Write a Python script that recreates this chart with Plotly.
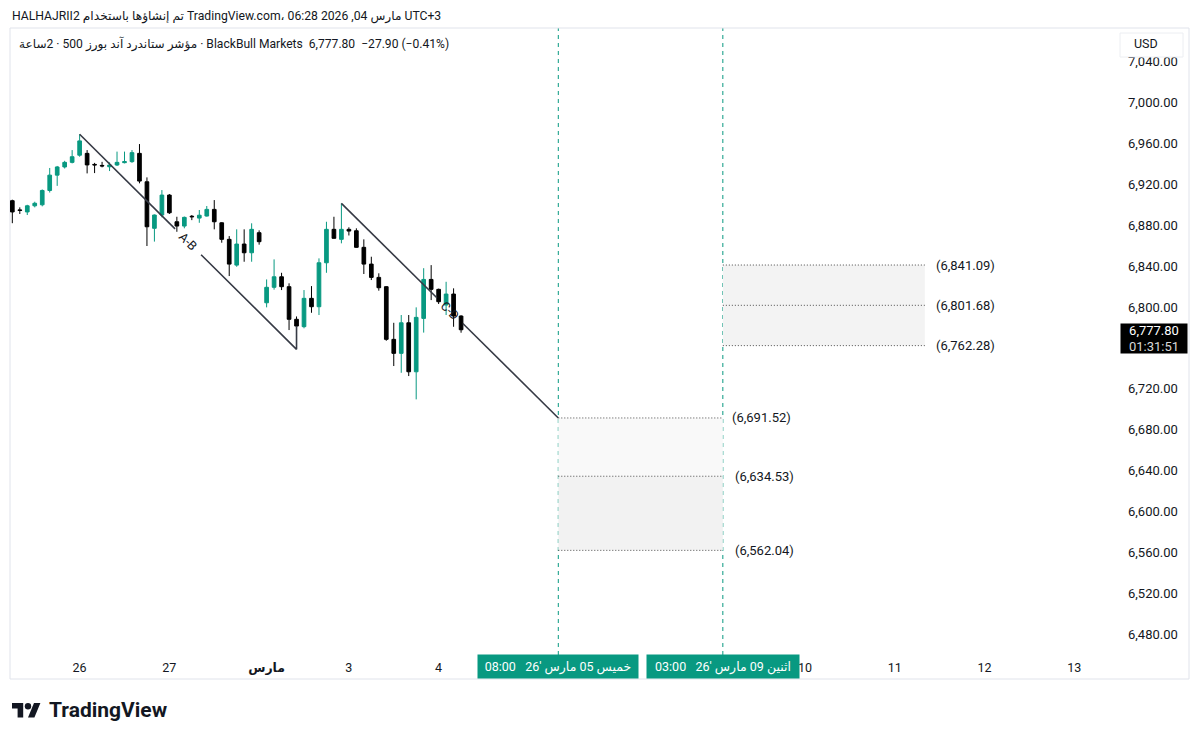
import math
import plotly.graph_objects as go

# ---------------- data ----------------
bar_index = list(range(61))
opens = [6904.0, 6895.0, 6893.0, 6899.0, 6900.0, 6914.0, 6929.0, 6937.0, 6941.5, 6948.5,
         6950.3, 6939.5, 6938.5, 6937.2, 6938.9, 6941.2, 6942.2, 6950.3, 6922.5, 6877.0,
         6890.0, 6909.5, 6883.4, 6879.2, 6888.8, 6887.0, 6889.0, 6895.5, 6882.4, 6866.2,
         6841.0, 6861.6, 6853.1, 6872.7, 6804.2, 6819.3, 6829.6, 6819.9, 6788.0, 6780.8,
         6808.5, 6800.3, 6843.3, 6876.0, 6866.2, 6876.0, 6874.6, 6858.4, 6842.0, 6829.0,
         6819.9, 6768.4, 6754.7, 6784.6, 6736.7, 6788.9, 6827.0, 6817.3, 6802.0, 6812.7,
         6791.2]
highs = [6905.0, 6897.5, 6900.0, 6903.0, 6915.0, 6936.0, 6938.0, 6943.0, 6953.5, 6969.0,
         6953.5, 6941.0, 6942.0, 6941.5, 6952.0, 6952.0, 6953.5, 6959.4, 6926.8, 6890.5,
         6914.4, 6910.5, 6888.3, 6888.5, 6890.0, 6894.9, 6898.8, 6904.6, 6883.0, 6869.4,
         6876.0, 6876.0, 6881.9, 6875.0, 6827.0, 6846.6, 6833.5, 6823.2, 6790.8, 6816.6,
         6820.5, 6847.6, 6883.4, 6888.3, 6901.4, 6878.0, 6877.0, 6866.2, 6849.2, 6833.0,
         6820.5, 6784.6, 6792.2, 6792.2, 6799.7, 6838.0, 6841.0, 6818.0, 6824.7, 6818.3,
         6792.0]
lows = [6882.0, 6891.0, 6890.0, 6897.5, 6898.5, 6912.0, 6918.5, 6935.5, 6940.5, 6947.0,
        6930.7, 6931.0, 6936.6, 6933.0, 6938.0, 6940.5, 6941.0, 6921.0, 6859.7, 6864.0,
        6887.7, 6891.0, 6873.6, 6877.0, 6885.0, 6882.4, 6888.5, 6876.0, 6862.9, 6830.3,
        6839.4, 6844.3, 6844.3, 6861.0, 6799.7, 6817.0, 6816.6, 6777.5, 6776.8, 6779.2,
        6794.4, 6792.2, 6833.5, 6867.0, 6862.3, 6870.0, 6858.0, 6832.3, 6826.4, 6816.0,
        6767.0, 6742.3, 6735.7, 6732.5, 6709.7, 6775.0, 6806.8, 6803.0, 6792.2, 6780.7,
        6774.9]
closes = [6893.0, 6894.5, 6899.0, 6901.5, 6914.0, 6929.0, 6937.0, 6941.5, 6947.0, 6962.5,
          6939.0, 6939.0, 6938.0, 6938.9, 6941.5, 6942.2, 6951.0, 6923.2, 6878.5, 6890.0,
          6909.5, 6892.2, 6879.2, 6887.7, 6888.3, 6889.8, 6895.5, 6883.4, 6866.2, 6842.0,
          6861.6, 6853.1, 6876.0, 6863.9, 6819.3, 6829.6, 6819.9, 6788.0, 6781.4, 6808.5,
          6800.3, 6843.3, 6876.0, 6867.2, 6876.0, 6874.3, 6858.4, 6842.0, 6829.0, 6818.9,
          6768.4, 6754.7, 6784.6, 6736.7, 6789.9, 6827.0, 6817.3, 6805.2, 6812.7, 6791.2,
          6777.8]

day_tick_index = [9, 21, 34, 45, 57, 106, 118, 130, 142]
day_tick_text = ["26", "27", "<b>مارس</b>", "3", "4", "10", "11", "12", "13"]

price_tick_values = [6480, 6520, 6560, 6600, 6640, 6680, 6720, 6800, 6840, 6880,
                     6920, 6960, 7000, 7040]

pattern_ab_index = [9, 38]
pattern_ab_price = [6969.0, 6758.6]
pattern_b_stub_price = 6781.4
pattern_cd_index = [44, 73]
pattern_cd_price = [6901.4, 6691.52]
pattern_labels = ["A-B", "C-D"]

event_index = [73, 95]
event_labels = ["خميس 05 مارس '26\u00a0\u00a0\u00a008:00", "اثنين 09 مارس '26\u00a0\u00a0\u00a003:00"]

upper_zone_index = [95, 122]
upper_zone_levels = [6841.09, 6801.68, 6762.28]
lower_zone_index = [73, 95]
lower_zone_levels = [6691.52, 6634.53, 6562.04]

last_price = 6777.80
countdown = "01:31:51"

header_line1 = "HALHAJRII2 تم إنشاؤها باستخدام TradingView.com، مارس 04, 2026 06:28 UTC+3"
header_line2 = ("مؤشر ستاندرد آند بورز 500 · 2ساعة · BlackBull Markets\u00a0\u00a06,777.80"
                "\u00a0\u00a0\u221227.90 (\u22120.41%)")

# ---------------- layout constants ----------------
W, H = 1200, 739
ML, MR, MT, MB = 10, 83, 28, 84
PW, PH = W - ML - MR, H - MT - MB
x_range = [-0.31, 147.7]
y_range = [6459.7, 7072.9]
UP = "#089981"
DOWN = "#000000"
TXT = "#131722"
FONT = "Roboto, 'Noto Sans', 'DejaVu Sans', sans-serif"
LINE_COL = "#363a45"

px_per_idx = PW / (x_range[1] - x_range[0])
px_per_pt = PH / (y_range[1] - y_range[0])


def px2paper(px, py):
    return (px - ML) / PW, (MT + PH - py) / PH


fig = go.Figure()

# zones (background boxes)
shapes = []
for (ix, lv, fills) in [(upper_zone_index, upper_zone_levels, ["#f3f3f3", "#f3f3f3"]),
                        (lower_zone_index, lower_zone_levels, ["#f9f9f9", "#f2f2f2"])]:
    for k in range(2):
        shapes.append(dict(type="rect", xref="x", yref="y", x0=ix[0], x1=ix[1],
                           y0=lv[k + 1], y1=lv[k], fillcolor=fills[k], line=dict(width=0),
                           layer="below"))
    for v in lv:
        shapes.append(dict(type="line", xref="x", yref="y", x0=ix[0], x1=ix[1], y0=v, y1=v,
                           line=dict(color="#4a4a4a", width=1, dash="1px,2px"), layer="below"))

# event vertical dashed lines
for ei in event_index:
    shapes.append(dict(type="line", xref="x", yref="paper", x0=ei, x1=ei, y0=0, y1=1,
                       line=dict(color=UP, width=1, dash="4px,4px"), layer="below"))

# outer frame
fx0, fy0 = px2paper(10, 679)
fx1, fy1 = px2paper(1189, 28)
shapes.append(dict(type="rect", xref="paper", yref="paper", x0=fx0, x1=fx1, y0=fy0, y1=fy1,
                   line=dict(color="#e0e3eb", width=1), fillcolor="rgba(0,0,0,0)", layer="below"))

# USD box (drawn above tick labels)
ux0, uy0 = px2paper(1120, 57)
ux1, uy1 = px2paper(1183, 33)
shapes.append(dict(type="rect", xref="paper", yref="paper", x0=ux0, x1=ux1, y0=uy0, y1=uy1,
                   line=dict(color="#eceef2", width=1), fillcolor="white", layer="above"))

# TradingView logo (36x28 design units)
def logo_pt(u, v):
    return px2paper(12 + 0.8 * u, 699.8 + 0.8 * v)

def logo_path(points):
    s = ""
    for n, (u, v) in enumerate(points):
        X, Y = logo_pt(u, v)
        s += ("M" if n == 0 else "L") + f"{X:.5f},{Y:.5f} "
    return s + "Z"

shapes.append(dict(type="path", xref="paper", yref="paper",
                   path=logo_path([(0, 4), (14, 4), (14, 22), (7, 22), (7, 11), (0, 11)]),
                   fillcolor=TXT, line=dict(width=0)))
shapes.append(dict(type="path", xref="paper", yref="paper",
                   path=logo_path([(20, 22), (28, 22), (35.5, 4), (27.5, 4)]),
                   fillcolor=TXT, line=dict(width=0)))
cx0, cy0 = logo_pt(16, 12)
cx1, cy1 = logo_pt(24, 4)
shapes.append(dict(type="circle", xref="paper", yref="paper", x0=cx0, x1=cx1, y0=cy0, y1=cy1,
                   fillcolor=TXT, line=dict(width=0)))

# candles
fig.add_trace(go.Candlestick(
    x=bar_index, open=opens, high=highs, low=lows, close=closes,
    increasing=dict(line=dict(color=UP, width=1), fillcolor=UP),
    decreasing=dict(line=dict(color=DOWN, width=1), fillcolor=DOWN),
    whiskerwidth=0, hoverinfo="skip", showlegend=False))

# pattern lines with a gap for the label
G0, G1 = 0.44, 0.56
annotations = []
for n, (ix, pr) in enumerate([(pattern_ab_index, pattern_ab_price),
                              (pattern_cd_index, pattern_cd_price)]):
    dx, dy = ix[1] - ix[0], pr[1] - pr[0]
    xs = [ix[0], ix[0] + dx * G0, None, ix[0] + dx * G1, ix[1]]
    ys = [pr[0], pr[0] + dy * G0, None, pr[0] + dy * G1, pr[1]]
    if n == 0:
        xs += [ix[1]]
        ys += [pattern_b_stub_price]
    fig.add_trace(go.Scatter(x=xs, y=ys, mode="lines", line=dict(color=LINE_COL, width=1.6),
                             hoverinfo="skip", showlegend=False))
    ang = math.degrees(math.atan2(-dy * px_per_pt, dx * px_per_idx))
    annotations.append(dict(x=ix[0] + dx * 0.5, y=pr[0] + dy * 0.5, xref="x", yref="y",
                            text=pattern_labels[n], showarrow=False, textangle=ang,
                            font=dict(size=12.5, color=TXT, family=FONT)))

# zone labels
for ix, lv, shifts in [(upper_zone_index, upper_zone_levels, [9, 9, 9]),
                       (lower_zone_index, lower_zone_levels, [7, 10, 10])]:
    for v, s in zip(lv, shifts):
        annotations.append(dict(x=ix[1], y=v, xref="x", yref="y", xanchor="left", xshift=s,
                                text=f"({v:,.2f})", showarrow=False,
                                font=dict(size=13, color=TXT, family=FONT)))

# event date boxes on time axis
for ei, lab, w in zip(event_index, event_labels, [156, 148]):
    annotations.append(dict(x=ei, y=0, xref="x", yref="paper", yanchor="top", yshift=1,
                            text=lab, showarrow=False, bgcolor=UP, width=w, height=19,
                            borderpad=2, font=dict(size=12.5, color="white", family=FONT)))

# last price box
annotations.append(dict(x=1, y=last_price, xref="paper", yref="y", xanchor="left", xshift=3,
                        yanchor="top", yshift=7,
                        text=f"{last_price:,.2f}<br><span style='color:#d8d8d8'>{countdown}</span>",
                        showarrow=False, bgcolor="#000000", width=62, height=25, borderpad=2,
                        font=dict(size=13, color="white", family=FONT)))

# USD label
ax_, ay_ = px2paper(1132, 44)
annotations.append(dict(x=ax_, y=ay_, xref="paper", yref="paper", xanchor="left",
                        yanchor="middle", text="USD", showarrow=False,
                        font=dict(size=12.5, color=TXT, family=FONT)))

# header
h1x, h1y = px2paper(10, 17)
annotations.append(dict(x=h1x, y=h1y, xref="paper", yref="paper", xanchor="left",
                        yanchor="middle", text=header_line1, showarrow=False,
                        font=dict(size=12.2, color=TXT, family=FONT)))
h2x, h2y = px2paper(17, 44)
annotations.append(dict(x=h2x, y=h2y, xref="paper", yref="paper", xanchor="left",
                        yanchor="middle", text=header_line2, showarrow=False,
                        font=dict(size=12.1, color=TXT, family=FONT)))

# TradingView wordmark
tx, ty = px2paper(47, 710)
annotations.append(dict(x=tx, y=ty, xref="paper", yref="paper", xanchor="left",
                        yanchor="middle", text="<b>TradingView</b>", showarrow=False,
                        font=dict(size=21, color=TXT, family=FONT)))

fig.update_layout(
    width=W, height=H, margin=dict(l=ML, r=MR, t=MT, b=MB, autoexpand=False),
    paper_bgcolor="white", plot_bgcolor="white",
    shapes=shapes, annotations=annotations, showlegend=False,
    font=dict(family=FONT, color=TXT, size=12),
    xaxis=dict(range=x_range, rangeslider=dict(visible=False), showgrid=False,
               zeroline=False, showline=False, ticks="", tickmode="array",
               tickvals=day_tick_index, ticktext=day_tick_text,
               tickfont=dict(size=12.5, color=TXT, family=FONT), ticklabelstandoff=3,
               fixedrange=True),
    yaxis=dict(range=y_range, side="right", showgrid=False, zeroline=False, showline=False,
               ticks="", tickmode="array", tickvals=price_tick_values, tickformat=",.2f",
               tickfont=dict(size=13, color=TXT, family=FONT), ticklabelstandoff=10,
               fixedrange=True),
)

fig.write_html("out.html")
